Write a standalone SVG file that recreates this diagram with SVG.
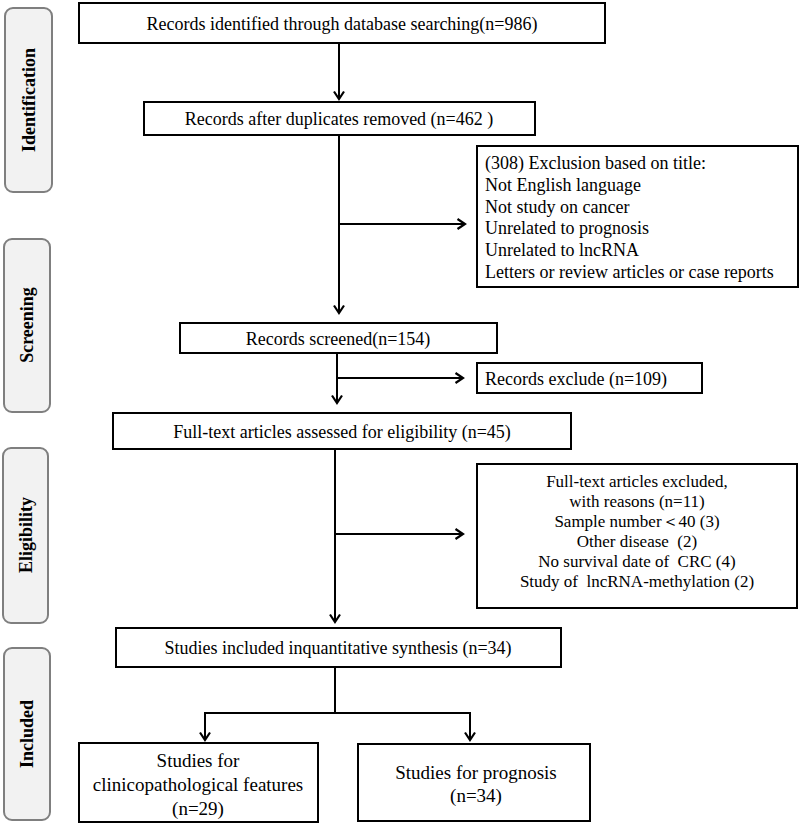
<svg xmlns="http://www.w3.org/2000/svg" width="800" height="826" viewBox="0 0 800 826">
<defs>
<marker id="arr" markerWidth="14" markerHeight="14" refX="11" refY="7" orient="auto" markerUnits="userSpaceOnUse">
<path d="M3.5,2 L11,7 L3.5,12" fill="none" stroke="#000" stroke-width="2.2"/>
</marker>
<style>
.box{fill:#fff;stroke:#000;stroke-width:2}
.side{fill:#f2f2f2;stroke:#7f7f7f;stroke-width:2}
.t{font-family:"Liberation Serif","Times New Roman",serif;font-size:18px;fill:#000}
.b{font-size:19px}
.m{font-size:17px}
.c{text-anchor:middle}
.s{font-family:"Liberation Serif","Times New Roman",serif;font-size:18px;font-weight:bold;fill:#000;text-anchor:middle}
.ln{fill:none;stroke:#000;stroke-width:2}
</style>
</defs>
<rect width="800" height="826" fill="#fff"/>
<g id="side-identification"><rect class="side" x="5" y="8" width="47" height="184" rx="8"/><text class="s" transform="translate(35,100) rotate(-90)">Identification</text></g>
<g id="side-screening"><rect class="side" x="4" y="239" width="46" height="173" rx="8"/><text class="s" transform="translate(33,325) rotate(-90)">Screening</text></g>
<g id="side-eligibility"><rect class="side" x="3" y="448" width="45" height="175" rx="8"/><text class="s" transform="translate(32,535) rotate(-90)">Eligibility</text></g>
<g id="side-included"><rect class="side" x="4" y="648" width="46" height="172" rx="8"/><text class="s" transform="translate(33,734) rotate(-90)">Included</text></g>

<g id="n1"><rect class="box" x="79" y="3" width="526" height="40"/><text class="t c" x="342" y="30">Records identified through database searching(n=986)</text></g>
<g id="n2"><rect class="box" x="144" y="102" width="391" height="33"/><text class="t c" x="339" y="125" xml:space="preserve">Records after duplicates removed (n=462 )</text></g>
<g id="n3"><rect class="box" x="477" y="146" width="321" height="141"/>
<text class="t" x="485" y="169">(308) Exclusion based on title:</text>
<text class="t" x="485" y="191">Not English language</text>
<text class="t" x="485" y="213">Not study on cancer</text>
<text class="t" x="485" y="234">Unrelated to prognosis</text>
<text class="t" x="485" y="256">Unrelated to lncRNA</text>
<text class="t" x="485" y="278">Letters or review articles or case reports</text></g>
<g id="n4"><rect class="box" x="180" y="323" width="317" height="30"/><text class="t c" x="338" y="345">Records screened(n=154)</text></g>
<g id="n5"><rect class="box" x="477" y="363" width="225" height="30"/><text class="t" x="485" y="385">Records exclude (n=109)</text></g>
<g id="n6"><rect class="box" x="113" y="413" width="458" height="36"/><text class="t c" x="342" y="438">Full-text articles assessed for eligibility (n=45)</text></g>
<g id="n7"><rect class="box" x="477" y="464" width="320" height="144"/>
<text class="t m c" x="637" y="487">Full-text articles excluded,</text>
<text class="t m c" x="637" y="507">with reasons (n=11)</text>
<text class="t m c" x="637" y="527">Sample number＜40 (3)</text>
<text class="t m c" x="637" y="547" xml:space="preserve">Other disease  (2)</text>
<text class="t m c" x="637" y="567" xml:space="preserve">No survival date of  CRC (4)</text>
<text class="t m c" x="637" y="587" xml:space="preserve">Study of  lncRNA-methylation (2)</text></g>
<g id="n8"><rect class="box" x="116" y="628" width="445" height="39"/><text class="t c" x="338" y="654">Studies included inquantitative synthesis (n=34)</text></g>
<g id="n9"><rect class="box" x="79" y="743" width="239" height="79"/>
<text class="t b c" x="198" y="767">Studies for</text>
<text class="t b c" x="198" y="791">clinicopathological features</text>
<text class="t b c" x="198" y="815">(n=29)</text></g>
<g id="n10"><rect class="box" x="358" y="744" width="232" height="77"/>
<text class="t b c" x="476" y="779">Studies for prognosis</text>
<text class="t b c" x="476" y="802">(n=34)</text></g>

<g id="connectors">
<line class="ln" x1="339" y1="43" x2="339" y2="99" marker-end="url(#arr)"/>
<line class="ln" x1="339" y1="135" x2="339" y2="313" marker-end="url(#arr)"/>
<line class="ln" x1="339" y1="224" x2="465" y2="224" marker-end="url(#arr)"/>
<line class="ln" x1="337" y1="353" x2="337" y2="403" marker-end="url(#arr)"/>
<line class="ln" x1="337" y1="378" x2="463" y2="378" marker-end="url(#arr)"/>
<line class="ln" x1="335" y1="449" x2="335" y2="622" marker-end="url(#arr)"/>
<line class="ln" x1="335" y1="534" x2="463" y2="534" marker-end="url(#arr)"/>
<line class="ln" x1="335" y1="667" x2="335" y2="713"/>
<polyline class="ln" points="205,713 470,713"/>
<line class="ln" x1="205" y1="712" x2="205" y2="740" marker-end="url(#arr)"/>
<line class="ln" x1="470" y1="712" x2="470" y2="740" marker-end="url(#arr)"/>
</g>
</svg>
